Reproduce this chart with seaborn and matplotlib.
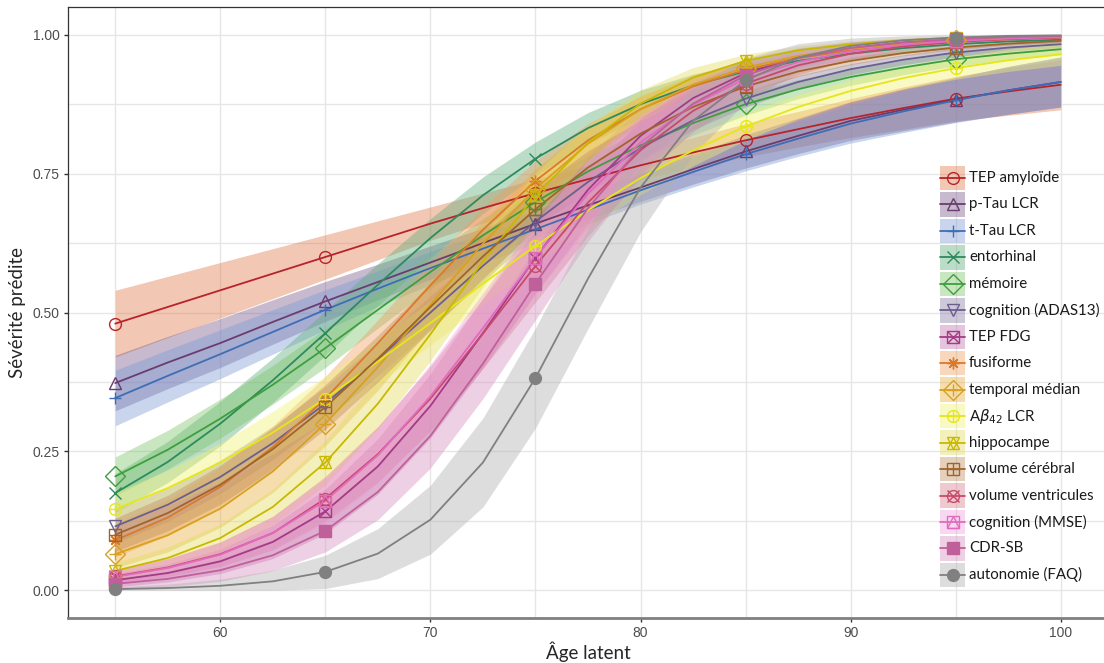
import matplotlib
matplotlib.use("Agg")
import matplotlib.pyplot as plt
import numpy as np
import pandas as pd
import seaborn as sns
from matplotlib.patches import Rectangle
from matplotlib.ticker import MultipleLocator

ages = [55, 57.5, 60, 62.5, 65, 67.5, 70, 72.5, 75, 77.5, 80,
        82.5, 85, 87.5, 90, 92.5, 95, 97.5, 100]
marker_ages = [55, 65, 75, 85, 95]

labels = [
    "TEP amyloïde", "p-Tau LCR", "t-Tau LCR", "entorhinal", "mémoire",
    "cognition (ADAS13)", "TEP FDG", "fusiforme", "temporal médian",
    r"A$\beta_{42}$ LCR", "hippocampe", "volume cérébral",
    "volume ventricules", "cognition (MMSE)", "CDR-SB", "autonomie (FAQ)",
]

# predicted severity (centre of each curve)
tep_amyloide = [.48, .51, .54, .57, .60, .63, .66, .688, .715, .74, .765,
                .788, .81, .83, .85, .868, .885, .898, .91]
ptau_lcr = [.373, .41, .445, .483, .52, .555, .59, .625, .66, .693, .725,
            .758, .79, .818, .845, .865, .883, .90, .915]
ttau_lcr = [.346, .386, .425, .465, .505, .543, .58, .615, .65, .685, .72,
            .753, .785, .813, .84, .862, .882, .90, .915]
entorhinal = [.175, .231, .30, .378, .463, .55, .634, .711, .777, .832, .875,
              .909, .934, .953, .966, .976, .983, .988, .991]
memoire = [.205, .253, .309, .37, .436, .505, .573, .639, .699, .754, .801,
           .841, .875, .902, .924, .941, .956, .966, .974]
adas13 = [.115, .154, .204, .265, .336, .416, .50, .584, .664, .735, .796,
          .846, .885, .915, .938, .955, .968, .977, .983]
tep_fdg = [.018, .031, .052, .087, .142, .223, .332, .463, .599, .721, .818,
           .886, .931, .959, .976, .986, .992, .995, .997]
fusiforme = [.09, .131, .186, .258, .345, .445, .549, .649, .737, .81, .866,
             .907, .937, .958, .972, .981, .988, .992, .995]
temporal_median = [.065, .099, .147, .214, .30, .402, .514, .624, .723, .804, .866,
                   .91, .941, .962, .975, .984, .99, .993, .996]
abeta42_lcr = [.146, .184, .23, .284, .345, .412, .481, .552, .62, .684, .742,
               .792, .835, .87, .899, .922, .94, .954, .965]
hippocampe = [.035, .058, .094, .15, .23, .336, .461, .592, .711, .806, .876,
              .923, .953, .972, .983, .99, .994, .996, .998]
volume_cerebral = [.10, .139, .19, .254, .33, .417, .51, .601, .686, .761, .822,
                   .87, .907, .934, .953, .967, .977, .984, .989]
volume_ventricules = [.025, .041, .065, .103, .165, .245, .345, .462, .584, .698, .792,
                      .863, .912, .945, .966, .979, .987, .992, .995]
mmse = [.024, .04, .064, .103, .161, .243, .349, .472, .599, .714, .806,
        .874, .921, .951, .97, .982, .989, .993, .996]
cdr_sb = [.0115, .0205, .036, .063, .107, .177, .278, .408, .552, .688, .798,
          .876, .927, .958, .976, .986, .992, .996, .998]
faq = [.002, .004, .008, .016, .033, .066, .127, .23, .382, .561, .725,
       .845, .918, .959, .98, .99, .995, .998, .999]

# half-width of the shaded confidence band
hw_tep_amyloide = [.06, .055, .05, .045, .04, .035, .03, .027, .025, .025, .025,
                   .027, .03, .032, .035, .038, .04, .043, .045]
hw_ptau_lcr = [.05, .047, .044, .04, .036, .032, .03, .027, .025, .025, .025,
               .027, .03, .032, .035, .038, .04, .043, .045]
hw_ttau_lcr = [.05, .047, .044, .04, .036, .032, .03, .027, .025, .025, .025,
               .027, .03, .032, .035, .038, .04, .043, .045]
hw_entorhinal = [.035, .037, .04, .04, .04, .038, .035, .033, .03, .028, .025,
                 .02, .015, .012, .01, .009, .008, .006, .005]
hw_memoire = [.035, .035, .035, .035, .035, .033, .03, .03, .03, .028, .025,
              .022, .02, .017, .015, .013, .012, .011, .01]
hw_adas13 = [.03, .03, .03, .03, .03, .03, .03, .028, .025, .022, .02,
             .017, .015, .012, .01, .009, .008, .007, .006]
hw_tep_fdg = [.012, .016, .022, .03, .04, .05, .058, .063, .065, .06, .05,
              .038, .026, .017, .011, .007, .005, .004, .003]
hw_fusiforme = [.03, .032, .035, .038, .04, .042, .042, .04, .036, .03, .024,
                .018, .013, .009, .007, .005, .004, .003, .003]
hw_temporal_median = [.025, .03, .034, .038, .04, .042, .042, .04, .036, .03, .024,
                      .018, .013, .009, .007, .005, .004, .003, .003]
hw_abeta42_lcr = [.03, .032, .035, .038, .04, .04, .04, .038, .035, .032, .03,
                  .028, .025, .022, .02, .02, .02, .02, .02]
hw_hippocampe = [.015, .02, .025, .032, .04, .045, .048, .046, .04, .032, .025,
                 .018, .012, .008, .006, .004, .003, .002, .002]
hw_volume_cerebral = [.03, .032, .035, .038, .04, .042, .042, .04, .036, .03, .024,
                      .018, .013, .009, .007, .005, .004, .003, .003]
hw_volume_ventricules = [.012, .016, .022, .03, .04, .05, .058, .063, .065, .06, .05,
                         .038, .026, .017, .011, .007, .005, .004, .003]
hw_mmse = [.012, .016, .022, .03, .04, .05, .058, .063, .065, .06, .05,
           .038, .026, .017, .011, .007, .005, .004, .003]
hw_cdr_sb = [.01, .014, .02, .028, .038, .05, .058, .063, .065, .06, .05,
             .038, .026, .017, .011, .007, .005, .004, .003]
hw_faq = [.004, .007, .012, .02, .03, .045, .062, .08, .09, .09, .08,
          .06, .04, .025, .014, .008, .005, .003, .002]

line_colors = [
    "#B8232B", "#6B3C6E", "#3F6DB5", "#2E8A5C", "#3E9E3E", "#6A5F8E",
    "#A33B86", "#D97A2B", "#D9A020", "#E6E61A", "#C9B800", "#A0642A",
    "#C84A6A", "#E06CC0", "#C0609A", "#808080",
]
fill_colors = [
    "#E07A4A", "#7A5A8C", "#7C9BD6", "#5FAF7A", "#7CC46A", "#8A7FA6",
    "#C274B0", "#F0A060", "#E8B040", "#F2F270", "#E6DC60", "#C09060",
    "#D88090", "#F0A0DC", "#D890C0", "#B0B0B0",
]
# ggplot shapes 1..16, built from overlaid matplotlib markers
shapes = [
    ["o"], ["^"], ["+"], ["x"], ["D"], ["v"], ["s", "x"], [(8, 2, 0)],
    ["D", "+"], ["o", "+"], ["^", "v"], ["s", "+"], ["o", "x"], ["s", "^"],
    ["s"], ["o"],
]
filled = [False] * 14 + [True, True]

centres = [
    tep_amyloide, ptau_lcr, ttau_lcr, entorhinal, memoire, adas13, tep_fdg,
    fusiforme, temporal_median, abeta42_lcr, hippocampe, volume_cerebral,
    volume_ventricules, mmse, cdr_sb, faq,
]
halfwidths = [
    hw_tep_amyloide, hw_ptau_lcr, hw_ttau_lcr, hw_entorhinal, hw_memoire,
    hw_adas13, hw_tep_fdg, hw_fusiforme, hw_temporal_median, hw_abeta42_lcr,
    hw_hippocampe, hw_volume_cerebral, hw_volume_ventricules, hw_mmse,
    hw_cdr_sb, hw_faq,
]

rows = []
for lab, ys, hws in zip(labels, centres, halfwidths):
    for a, y, h in zip(ages, ys, hws):
        rows.append({"age": a, "sev": y, "lo": max(y - h, 0), "hi": min(y + h, 1), "marqueur": lab})
df = pd.DataFrame(rows)

sns.set_theme(style="white")
plt.rcParams["font.family"] = ["Lato", "DejaVu Sans"]

W, H = 1104, 663
fig = plt.figure(figsize=(W / 100, H / 100), dpi=100)
ax = fig.add_axes([68 / W, 45 / H, 1040 / W, 611 / H])

RIB_ALPHA = 0.42
MS = 8.5


def marker_size(m):
    return MS * 1.15 if m == "D" else MS


# ribbons first, then lines, then points (ggplot layer order)
for lab, fc in zip(labels, fill_colors):
    sub = df[df["marqueur"] == lab]
    ax.fill_between(sub["age"], sub["lo"], sub["hi"], color=fc, alpha=RIB_ALPHA, lw=0, zorder=1)

sns.lineplot(
    data=df, x="age", y="sev", hue="marqueur", hue_order=labels,
    palette=dict(zip(labels, line_colors)), lw=1.3, legend=False, ax=ax, zorder=2,
)

for lab, lc, shp, fill in zip(labels, line_colors, shapes, filled):
    sub = df[(df["marqueur"] == lab) & (df["age"].isin(marker_ages))]
    for m in shp:
        ax.plot(sub["age"], sub["sev"], ls="none", marker=m, ms=marker_size(m),
                mfc=lc if fill else "none", mec=lc, mew=1.0, zorder=3)

ax.set_xlim(52.75, 102.25)
ax.set_ylim(-0.05, 1.05)
ax.xaxis.set_major_locator(MultipleLocator(10))
ax.xaxis.set_minor_locator(MultipleLocator(5))
ax.yaxis.set_major_locator(MultipleLocator(0.25))
ax.yaxis.set_minor_locator(MultipleLocator(0.125))
ax.yaxis.set_major_formatter(plt.FuncFormatter(lambda v, _: f"{v:.2f}"))
ax.grid(True, which="both", color="#E6E6E6", lw=1.0, zorder=0)
ax.set_axisbelow(True)
ax.tick_params(axis="both", which="major", length=3, width=1, color="#333333",
               labelsize=10, labelcolor="#4D4D4D", pad=3, bottom=True, left=True)
ax.tick_params(axis="both", which="minor", length=0)
for lbl in ax.get_xticklabels() + ax.get_yticklabels():
    lbl.set_family("Liberation Sans")
for side in ["left", "top", "right"]:
    ax.spines[side].set_color("#333333")
    ax.spines[side].set_linewidth(0.9)
ax.spines["bottom"].set_color("#808080")
ax.spines["bottom"].set_linewidth(2)

ax.set_xlabel("Âge latent", fontsize=13.5, labelpad=1)
ax.set_ylabel("Sévérité prédite", fontsize=13.5, labelpad=5)

# legend drawn in figure pixels: tinted key box, line and marker, label
lg = fig.add_axes([0, 0, 1, 1], zorder=5)
lg.set_xlim(0, W)
lg.set_ylim(H, 0)
lg.axis("off")
key_x, key_w, key_h = 940, 25, 24.5
row0, row_step = 178, 26.46
for i, (lab, lc, fc, shp, fill) in enumerate(zip(labels, line_colors, fill_colors, shapes, filled)):
    yc = row0 + i * row_step
    lg.add_patch(Rectangle((key_x, yc - key_h / 2), key_w, key_h, facecolor=fc,
                           alpha=RIB_ALPHA, lw=0))
    lg.plot([key_x, key_x + key_w], [yc, yc], color=lc, lw=1.3)
    for m in shp:
        lg.plot([key_x + key_w / 2], [yc], ls="none", marker=m, ms=marker_size(m),
                mfc=lc if fill else "none", mec=lc, mew=1.0)
    lg.text(key_x + key_w + 4, yc, lab, fontsize=10.8, va="center", ha="left", color="#1A1A1A")

fig.savefig("out.png", dpi=100)
